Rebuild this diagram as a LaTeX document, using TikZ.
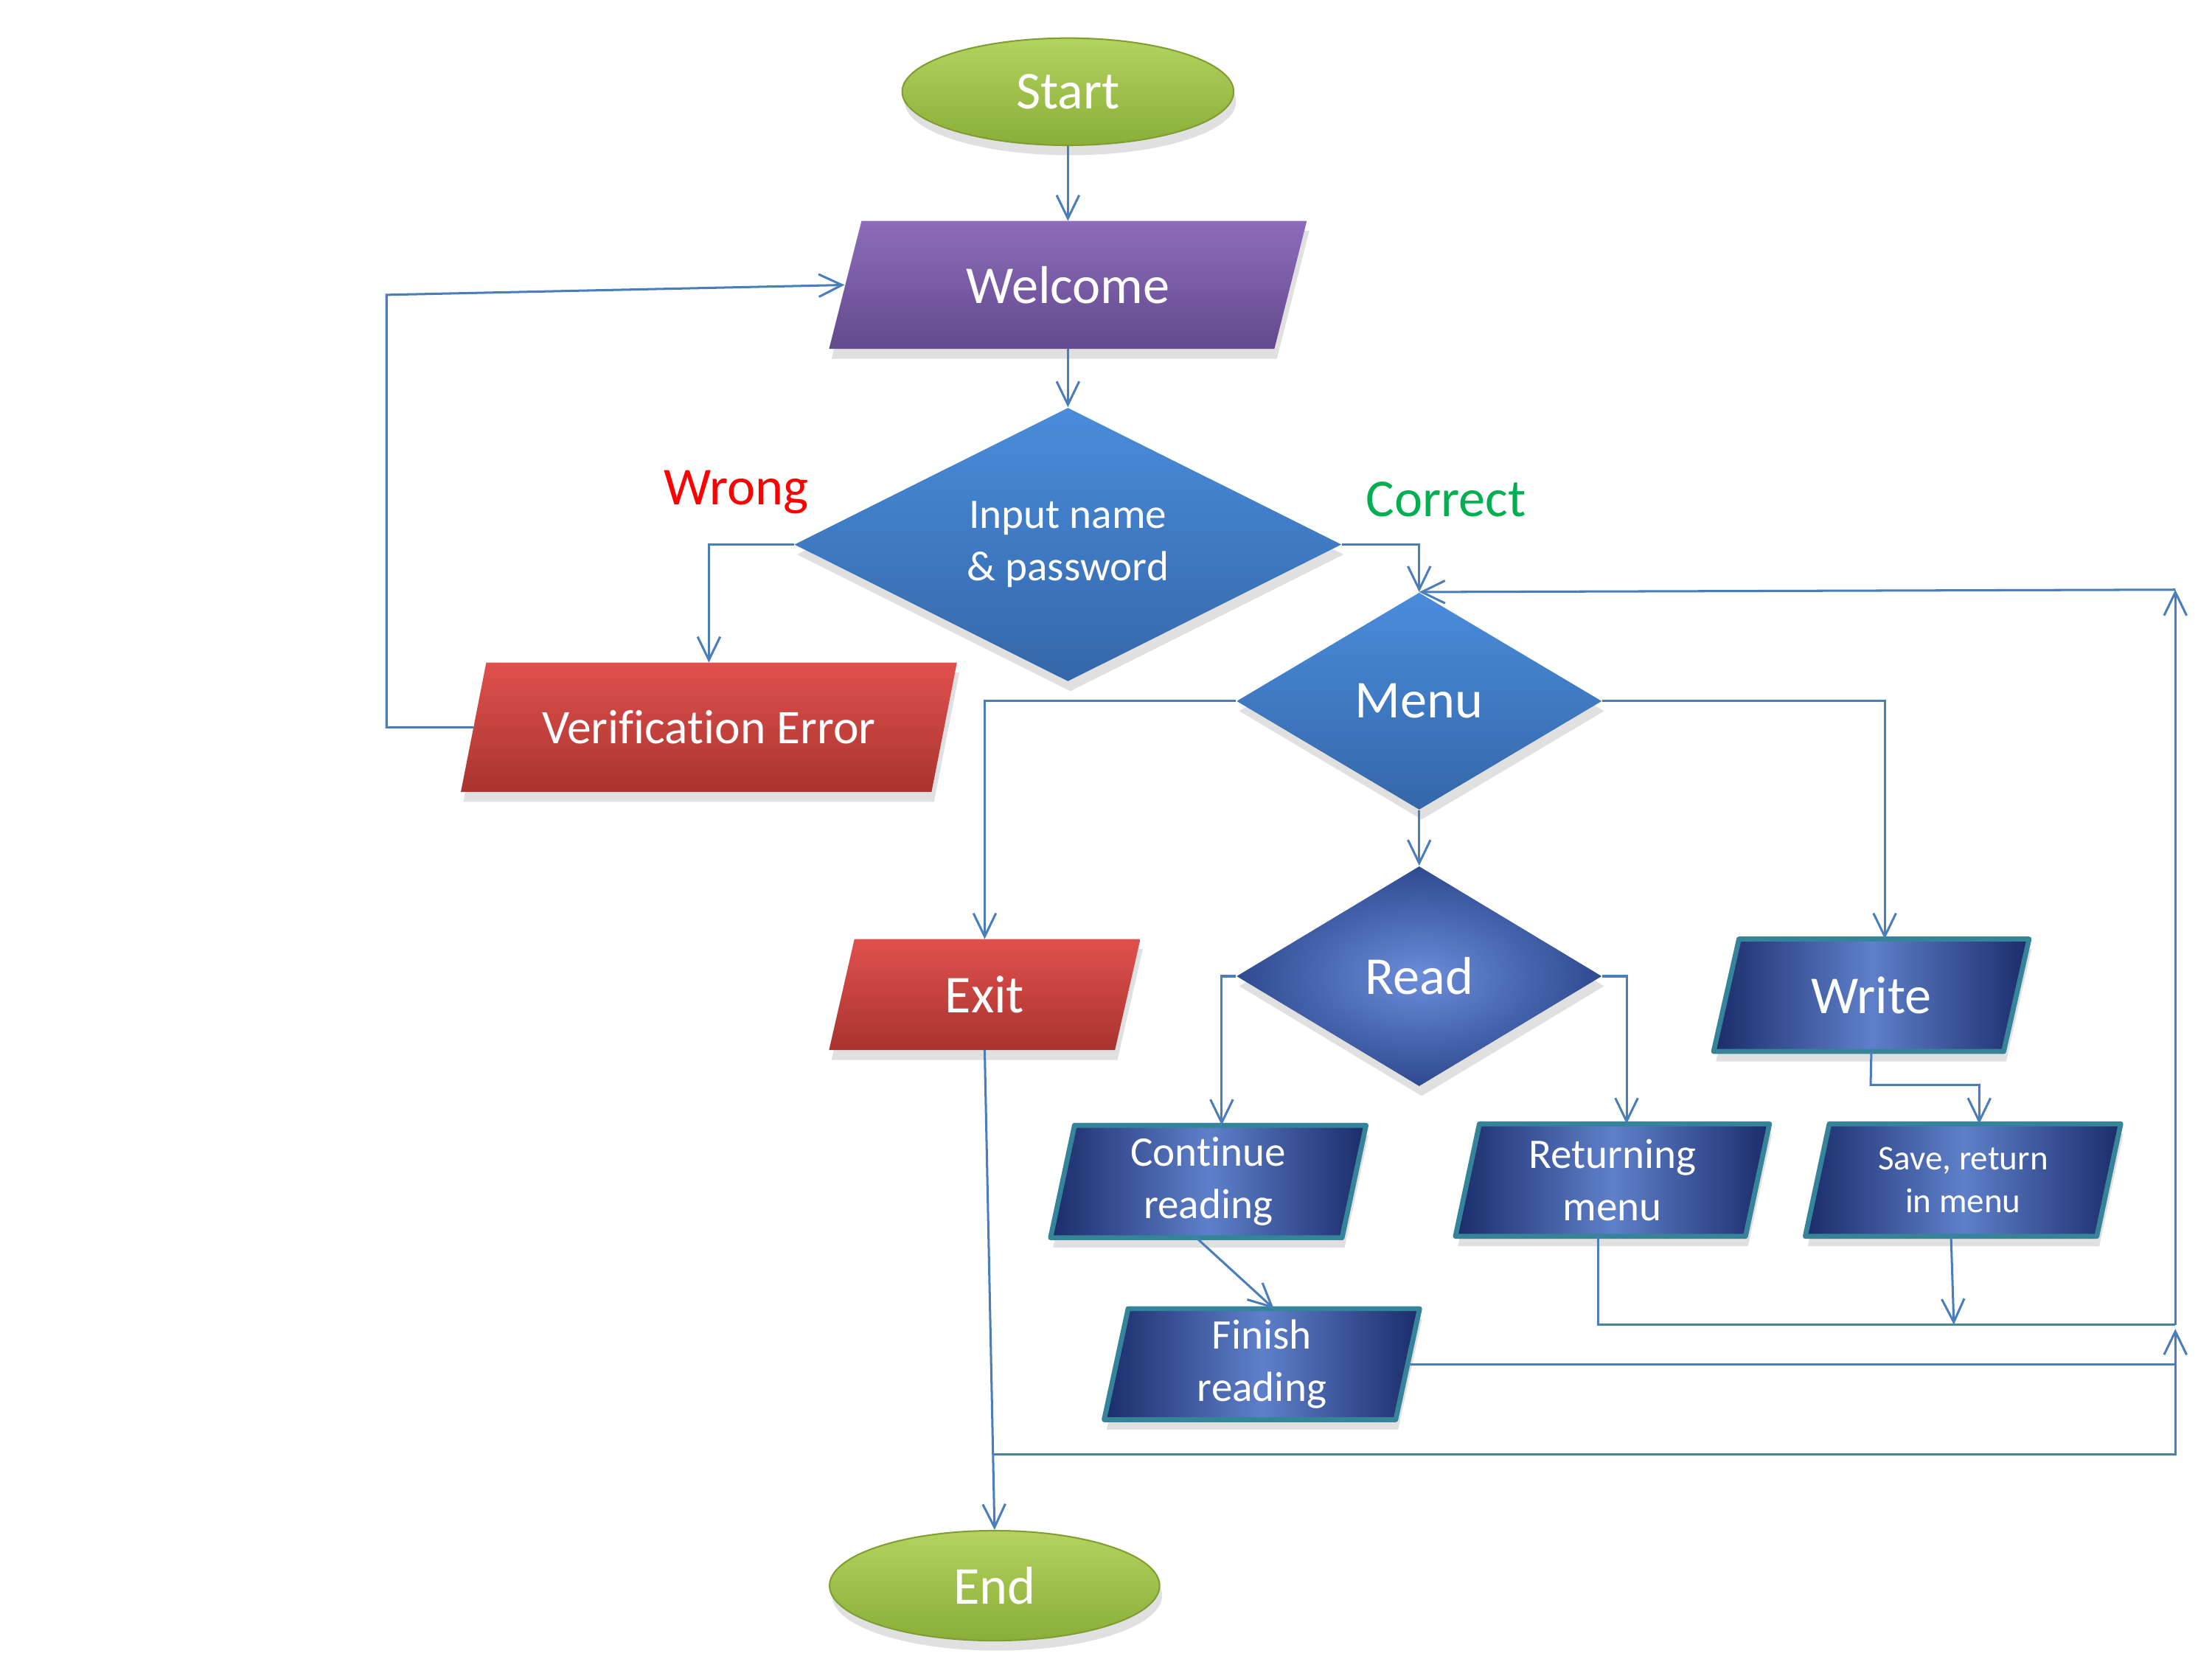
\documentclass[tikz,border=0pt]{standalone}
\usepackage{fontspec}
\setmainfont{Carlito}[Ligatures={NoCommon,NoContextual}]
\usetikzlibrary{shapes.geometric,arrows.meta,shadows,backgrounds,calc}

\definecolor{lineblue}{HTML}{4A7EBB}
\definecolor{greentop}{HTML}{B3D35E}
\definecolor{greenbot}{HTML}{8AAE38}
\definecolor{greenrim}{HTML}{7E9E32}
\definecolor{purptop}{HTML}{8D6CBB}
\definecolor{purpbot}{HTML}{624A8C}
\definecolor{redtop}{HTML}{E0504C}
\definecolor{redbot}{HTML}{A93430}
\definecolor{bluetop}{HTML}{4A8CDB}
\definecolor{bluebot}{HTML}{3467A9}
\definecolor{readin}{HTML}{6B8DDA}
\definecolor{readout}{HTML}{2E4A90}
\definecolor{navyedge}{HTML}{1B2C6A}
\definecolor{navymid}{HTML}{5E80CA}
\definecolor{tealrim}{HTML}{35849A}
\definecolor{wrongred}{HTML}{FF0000}
\definecolor{correctgreen}{HTML}{00B050}

\pgfdeclarelayer{bottom}
\pgfsetlayers{bottom,background,main}

\newcommand\parafill[3]{%
  \begin{pgfonlayer}{background}
    \path[#3] ($(#1.north west)+(#2,0)$) -- (#1.north east) -- ($(#1.south east)-(#2,0)$) -- (#1.south west) -- cycle;
  \end{pgfonlayer}}

\begin{document}
\begin{tikzpicture}[x=0.02cm,y=-0.02cm,
  shad/.style={drop shadow={shadow xshift=1pt,shadow yshift=-4pt,opacity=0.2,fill=black!60}},
  conn/.style={draw=lineblue,line width=0.9pt,-{Straight Barb[length=0.33cm,width=0.32cm]}},
  plain/.style={draw=lineblue,line width=0.9pt},
  big/.style={text=white,font=\fontsize{21.5}{26}\selectfont,align=center,inner sep=0pt},
  med/.style={text=white,font=\fontsize{17}{21.2}\selectfont,align=center,inner sep=0pt},
  small/.style={text=white,font=\fontsize{14}{17.2}\selectfont,align=center,inner sep=0pt},
  pbox/.style={rectangle},
  ellip/.style={ellipse,draw=greenrim,line width=0.6pt,top color=greentop,bottom color=greenbot,shad},
  bluedia/.style={diamond,top color=bluetop,bottom color=bluebot,shad},
  readdia/.style={diamond,inner color=readin,outer color=readout,shad},
  purplefill/.style={top color=purptop,bottom color=purpbot,shad},
  redfill/.style={top color=redtop,bottom color=redbot,shad},
  navyfill/.style={left color=navyedge,right color=navyedge,middle color=navymid,draw=tealrim,line width=2pt,line join=round,shad},
]
\begin{pgfonlayer}{bottom}
\fill[white] (0,0) rectangle (1568,1176);
\end{pgfonlayer}
\useasboundingbox (0,0) rectangle (1568,1176);

% nodes
\node[ellip,big,minimum width=4.7cm,minimum height=1.52cm] (start) at (757,65) {Start};
\node[pbox,big,minimum width=6.76cm,minimum height=1.8cm] (welcome) at (757,202) {Welcome};
\parafill{welcome}{23}{purplefill}
\node[bluedia,med,aspect=2,minimum width=7.76cm,minimum height=3.88cm] (input) at (757,386) {Input name\\\& password};
\node[text=wrongred,font=\fontsize{21.5}{26}\selectfont,inner sep=0pt] (wrong) at (522,349) {Wrong};
\node[text=correctgreen,font=\fontsize{21.5}{26}\selectfont,inner sep=0pt] (correct) at (1025,354) {Correct};
\node[pbox,text=white,font=\fontsize{19.5}{24}\selectfont,inner sep=0pt,minimum width=7.02cm,minimum height=1.82cm] (verr) at (502.5,515.5) {Verificat\kern0pt ion Error};
\parafill{verr}{18}{redfill}
\node[bluedia,big,aspect=1.68,minimum width=5.18cm,minimum height=3.08cm] (menu) at (1006,497) {Menu};
\node[pbox,big,minimum width=4.4cm,minimum height=1.56cm] (exit) at (698,705) {Exit};
\parafill{exit}{18}{redfill}
\node[readdia,big,aspect=1.66,minimum width=5.18cm,minimum height=3.12cm] (read) at (1006,692) {Read};
\node[pbox,big,minimum width=4.46cm,minimum height=1.58cm] (write) at (1326.5,705.5) {Write};
\parafill{write}{18}{navyfill}
\node[pbox,med,minimum width=4.46cm,minimum height=1.58cm] (cont) at (856.5,837.5) {Cont\kern0pt inue\\reading};
\parafill{cont}{17}{navyfill}
\node[pbox,med,minimum width=4.44cm,minimum height=1.58cm] (ret) at (1143,836.5) {Returning\\menu};
\parafill{ret}{17}{navyfill}
\node[pbox,small,minimum width=4.46cm,minimum height=1.58cm] (save) at (1391.5,836.5) {Save, return\\in menu};
\parafill{save}{17}{navyfill}
\node[pbox,med,minimum width=4.46cm,minimum height=1.56cm] (finish) at (894.5,967) {Finish\\reading};
\parafill{finish}{17}{navyfill}
\node[ellip,big,minimum width=4.68cm,minimum height=1.56cm] (end) at (705,1124) {End};

% junction coordinates
\coordinate (fb) at (274,209);
\coordinate (wj) at (1326,769);
\coordinate (rj) at (1542,939);
\coordinate (rt) at (1542,418);
\coordinate (sj) at (1385,939);
\coordinate (fj) at (1542,967);
\coordinate (up2) at (1542,942);
\coordinate (bj) at ($(exit.south)!0.842!(end.north)$);

% connectors
\draw[conn] (start.south) -- (welcome.north);
\draw[conn] (welcome.south) -- (input.north);
\draw[conn] (input.west) -| (verr.north);
\draw[conn] (input.east) -| (menu.north);
\draw[conn] ($(verr.west)+(9,0)$) -| (fb) -- ($(welcome.west)+(11,0)$);
\draw[conn] (menu.west) -| (exit.north);
\draw[conn] (menu.south) -- (read.north);
\draw[conn] (menu.east) -| ($(write.north)+(9.5,0)$);
\draw[conn] (read.west) -| ($(cont.north)+(9.5,0)$);
\draw[conn] (read.east) -| ($(ret.north)+(10,0)$);
\draw[conn] (write.south) -- (wj) -| ($(save.north)+(11.5,0)$);
\draw[conn] ($(cont.south)+(-8.5,0)$) -- ($(finish.north)+(8.5,0)$);
\draw[plain] ($(ret.south)+(-10,0)$) |- (rj);
\draw[conn] ($(save.south)+(-8.5,0)$) -- (sj);
\draw[conn] (rj) -- (rt);
\draw[conn] (rt) -- (menu.north);
\draw[plain] ($(finish.east)+(-8,0)$) -- (fj);
\draw[conn] (exit.south) -- (end.north);
\draw[conn] (bj) -| (up2);
\end{tikzpicture}
\end{document}
